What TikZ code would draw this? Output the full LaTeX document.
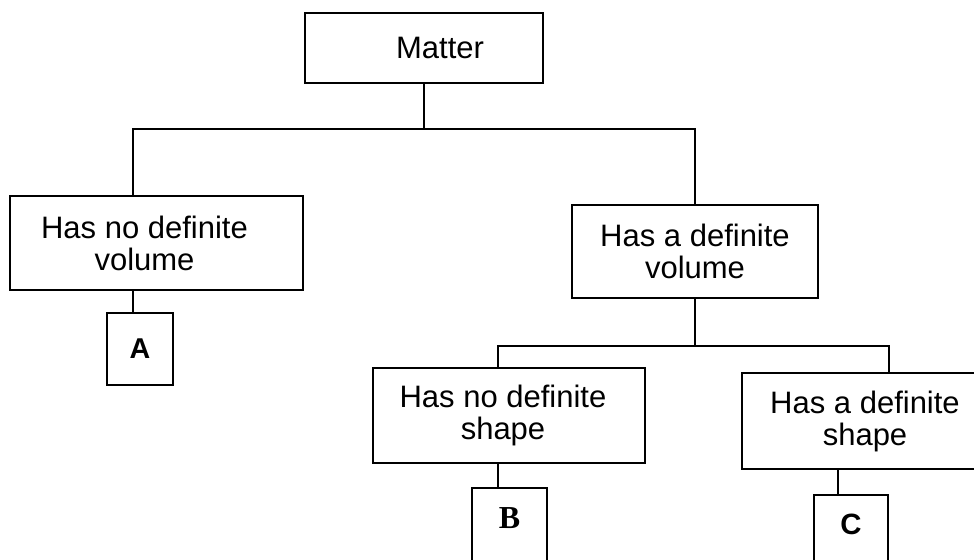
\documentclass[tikz,border=0pt]{standalone}
\usepackage{fontspec}
\setmainfont{Liberation Sans}
\newfontfamily\serifbf{Liberation Serif}
\begin{document}
\begin{tikzpicture}[x=0.75pt,y=-0.75pt, line width=1.4pt,
  box/.style={draw, line width=1.5pt, inner sep=0pt},
  lbl/.style={font=\fontsize{23.25}{24}\selectfont, align=center},
  link/.style={draw, line width=1.5pt}]
\useasboundingbox (0,0) rectangle (974,560);
\clip (0,0) rectangle (974,560);
% boxes
\node[box, minimum width=178.5pt, minimum height=52.5pt,
  label={[lbl,xshift=12pt]center:Matter}] (matter) at (424,48) {};
\node[box, minimum width=219.75pt, minimum height=70.5pt,
  label={[lbl,xshift=-9pt]center:Has no definite\\volume}] (nv) at (156.5,243) {};
\node[box, minimum width=184.5pt, minimum height=69.75pt,
  label={[lbl]center:Has a definite\\volume}] (dv) at (695,251.5) {};
\node[box, minimum width=204pt, minimum height=71.25pt,
  label={[lbl,xshift=-4.5pt]center:Has no definite\\shape}] (ns) at (509,415.5) {};
\node[box, minimum width=178.5pt, minimum height=72pt,
  label={[lbl,xshift=3pt]center:Has a definite\\shape}] (ds) at (861,421) {};
\node[box, minimum width=49.5pt, minimum height=54pt,
  font=\bfseries\fontsize{21.5}{21.5}\selectfont] (a) at (140,349) {A};
\node[box, anchor=north, minimum width=56.25pt, text height=30pt, text depth=36pt,
  font=\serifbf\bfseries\fontsize{24}{24}\selectfont] (b) at (509.5,487) {B};
\node[box, anchor=north, minimum width=55.5pt, text height=29.25pt, text depth=35.25pt,
  font=\bfseries\fontsize{22}{22}\selectfont] (c) at (851,494) {C};
% junctions
\coordinate (j1l) at (133,129);
\coordinate (j1r) at (695,129);
\coordinate (j2l) at (498,346);
\coordinate (j2r) at (889,346);
\coordinate (k3) at (838,0);
% connectors
\draw[link] (matter.south) -- (matter.south |- j1l);
\draw[link] (nv.north -| j1l) -- (j1l) -- (j1r) -- (dv.north -| j1r);
\draw[link] (dv.south) -- (dv.south |- j2l);
\draw[link] (ns.north -| j2l) -- (j2l) -- (j2r) -- (ds.north -| j2r);
\draw[link] (nv.south -| j1l) -- (a.north -| j1l);
\draw[link] (ns.south -| j2l) -- (b.north -| j2l);
\draw[link] (ds.south -| k3) -- (c.north -| k3);
\end{tikzpicture}
\end{document}
